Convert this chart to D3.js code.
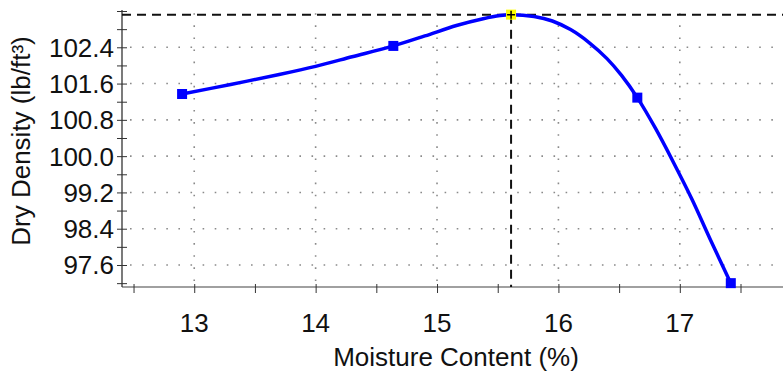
<!DOCTYPE html>
<html>
<head>
<meta charset="utf-8">
<script src="https://cdn.jsdelivr.net/npm/d3@7"></script>
<style>
  html, body { margin: 0; padding: 0; background: #fff; }
  svg { display: block; font-family: "Liberation Sans", Arial, sans-serif; }
</style>
</head>
<body>
<div id="chart"></div>
<script>
// measured points (moisture %, dry density lb/ft3)
const pointMoisture = [12.90, 14.64, 16.65, 17.42];
const pointDensity = [101.37, 102.43, 101.29, 97.20];

// fitted curve
const curveMoisture = [12.90, 13.30, 13.70, 14.00, 14.30, 14.64, 14.90, 15.16, 15.38, 15.52, 15.61,
    15.80, 15.95, 16.10, 16.25, 16.40, 16.52, 16.65, 16.80, 16.95, 17.10, 17.25, 17.42];
const curveDensity = [101.37, 101.58, 101.80, 101.98, 102.19, 102.43, 102.65, 102.88, 103.03, 103.10, 103.12,
    103.08, 102.98, 102.79, 102.51, 102.15, 101.78, 101.29, 100.61, 99.85, 99.05, 98.17, 97.20];

// optimum (max dry density)
const optMoisture = 15.61;
const optDensity = 103.12;

const xMajor = [13, 14, 15, 16, 17];
const xMinor = [12.5, 13, 13.5, 14, 14.5, 15, 15.5, 16, 16.5, 17, 17.5];
const yMajor = [97.6, 98.4, 99.2, 100.0, 100.8, 101.6, 102.4];
const yMinor = [97.2, 97.6, 98.0, 98.4, 98.8, 99.2, 99.6, 100.0, 100.4, 100.8, 101.2, 101.6, 102.0, 102.4, 102.8, 103.2];

const W = 783, H = 383;
const margin = { top: 11, right: 0, bottom: 96, left: 122 };

const svg = d3.select('#chart').append('svg')
    .attr('width', W)
    .attr('height', H);

const x = d3.scaleLinear().domain([12.405, 17.85]).range([margin.left, W - margin.right]);
const y = d3.scaleLinear().domain([97.115, 103.2]).range([H - margin.bottom, margin.top]);

// dotted grid
const grid = svg.append('g');
grid.selectAll('.hg').data(yMajor).join('line')
    .attr('x1', margin.left + 8).attr('x2', W)
    .attr('y1', d => y(d)).attr('y2', d => y(d))
    .attr('stroke', '#8a8a8a').attr('stroke-width', 1.6)
    .attr('stroke-dasharray', '1.6,10.5');
grid.selectAll('.vg').data(xMajor).join('line')
    .attr('x1', d => x(d)).attr('x2', d => x(d))
    .attr('y1', y.range()[0] - 6).attr('y2', margin.top)
    .attr('stroke', '#8a8a8a').attr('stroke-width', 1.6)
    .attr('stroke-dasharray', '1.6,10.5');

// axes
const xAxisG = svg.append('g').attr('transform', `translate(0,${y.range()[0]})`);
xAxisG.call(d3.axisBottom(x).tickValues(xMinor).tickSize(6).tickFormat(''));
xAxisG.select('.domain').attr('d', `M${margin.left},0H${W}`).attr('stroke', '#808080').attr('stroke-width', 1.3);
xAxisG.selectAll('.tick line').attr('y1', -3).attr('stroke', '#333');

xAxisG.append('g').selectAll('text').data(xMajor).join('text')
    .attr('x', d => x(d)).attr('y', 45)
    .attr('text-anchor', 'middle')
    .attr('fill', '#111').style('font-size', '26px')
    .text(d => d);

const yAxisG = svg.append('g').attr('transform', `translate(${margin.left},0)`);
yAxisG.call(d3.axisLeft(y).tickValues(yMinor).tickSize(5).tickFormat(''));
yAxisG.select('.domain').attr('d', `M0,${margin.top - 1}V${y.range()[0]}`).attr('stroke', '#333').attr('stroke-width', 1.3);
yAxisG.selectAll('.tick line').attr('x1', 5).attr('stroke', '#333');

yAxisG.append('g').selectAll('text').data(yMajor).join('text')
    .attr('x', -8).attr('y', d => y(d)).attr('dy', '0.36em')
    .attr('text-anchor', 'end')
    .attr('fill', '#111').style('font-size', '26px')
    .text(d => d.toFixed(1));

// axis titles
svg.append('text')
    .attr('x', 456).attr('y', 366)
    .attr('text-anchor', 'middle').attr('fill', '#111')
    .style('font-size', '26px')
    .text('Moisture Content (%)');

svg.append('text')
    .attr('transform', `translate(30,141) rotate(-90)`)
    .attr('text-anchor', 'middle').attr('fill', '#111')
    .style('font-size', '26px')
    .text('Dry Density (lb/ft³)');

// optimum dashed lines
svg.append('line')
    .attr('x1', margin.left).attr('x2', W)
    .attr('y1', y(optDensity)).attr('y2', y(optDensity))
    .attr('stroke', '#111').attr('stroke-width', 2)
    .attr('stroke-dasharray', '9,6');
svg.append('line')
    .attr('x1', x(optMoisture)).attr('x2', x(optMoisture))
    .attr('y1', y(optDensity)).attr('y2', y.range()[0])
    .attr('stroke', '#111').attr('stroke-width', 2)
    .attr('stroke-dasharray', '9,6');

// curve
const curveData = curveMoisture.map((m, i) => ({ m, d: curveDensity[i] }));
const line = d3.line()
    .x(d => x(d.m))
    .y(d => y(d.d))
    .curve(d3.curveCatmullRom.alpha(0.5));

svg.append('path')
    .datum(curveData)
    .attr('fill', 'none')
    .attr('stroke', '#0000ff')
    .attr('stroke-width', 3.5)
    .attr('stroke-linejoin', 'round')
    .attr('d', line);

// measured points
const s = 10;
svg.append('g').selectAll('rect')
    .data(pointMoisture.map((m, i) => ({ m, d: pointDensity[i] })))
    .join('rect')
    .attr('x', d => x(d.m) - s / 2)
    .attr('y', d => y(d.d) - s / 2)
    .attr('width', s).attr('height', s)
    .attr('fill', '#0000ff');

// optimum marker
const px = x(optMoisture), py = y(optDensity);
svg.append('rect')
    .attr('x', px - 5).attr('y', py - 5)
    .attr('width', 10).attr('height', 10)
    .attr('fill', '#ffff00');
svg.append('path')
    .attr('d', `M${px - 4},${py}H${px + 4}M${px},${py - 4}V${py + 4}`)
    .attr('stroke', '#000').attr('stroke-width', 1.5);
</script>
</body>
</html>
